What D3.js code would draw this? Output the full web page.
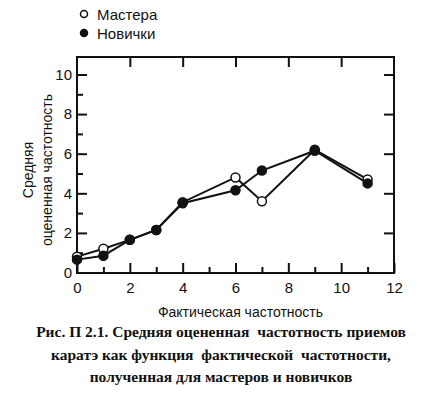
<!DOCTYPE html>
<html>
<head>
<meta charset="utf-8">
<script src="https://cdn.jsdelivr.net/npm/d3@7"></script>
<style>
  body { margin: 0; background: #fff; }
  svg { display: block; }
</style>
</head>
<body>
<svg width="424" height="393"></svg>
<script>
// data
const freq = [0, 1, 2, 3, 4, 6, 7, 9, 11];
const masters = [0.8, 1.2, 1.65, 2.15, 3.55, 4.8, 3.6, 6.2, 4.7];
const novices = [0.65, 0.85, 1.65, 2.15, 3.5, 4.15, 5.15, 6.15, 4.5];
const xMajor = [0, 2, 4, 6, 8, 10, 12];
const yMajor = [0, 2, 4, 6, 8, 10];
const legendLabels = ["Мастера", "Новички"];
const caption = [
  "Рис. П 2.1. Средняя оцененная  частотность приемов",
  "каратэ как функция  фактической  частотности,",
  "полученная для мастеров и новичков"
];

const svg = d3.select("svg");
const plotL = 77, plotR = 394, plotT = 57, plotB = 273;

const x = d3.scaleLinear().domain([0, 12]).range([plotL, plotR]);
const y = d3.scaleLinear().domain([0, 10]).range([272.5, 74.5]);

// frame
svg.append("rect")
  .attr("x", plotL).attr("y", plotT)
  .attr("width", plotR - plotL).attr("height", plotB - plotT)
  .attr("fill", "none").attr("stroke", "#111").attr("stroke-width", 2);

const tickFont = g => g.call(g => g.select(".domain").remove())
  .selectAll("text")
  .attr("font-family", "Liberation Sans, Arial, sans-serif")
  .attr("font-size", 15)
  .attr("fill", "#111");

const styleTicks = g => g.selectAll("line").attr("stroke", "#111").attr("stroke-width", 2);

// bottom axis: major + minor ticks
svg.append("g").attr("transform", `translate(0,${plotB})`)
  .call(d3.axisBottom(x).tickValues(xMajor).tickSize(-10).tickPadding(9).tickFormat(d3.format("d")))
  .call(tickFont)
  .call(styleTicks);
svg.append("g").attr("transform", `translate(0,${plotB})`)
  .call(d3.axisBottom(x).tickValues(d3.range(1, 12, 2)).tickSize(-6).tickFormat(""))
  .call(g => g.select(".domain").remove())
  .call(styleTicks);

// top ticks
svg.append("g").attr("transform", `translate(0,${plotT})`)
  .call(d3.axisTop(x).tickValues(xMajor.slice(1, -1)).tickSize(-10).tickFormat(""))
  .call(g => g.select(".domain").remove())
  .call(styleTicks);

// left axis
svg.append("g").attr("transform", `translate(${plotL},0)`)
  .call(d3.axisLeft(y).tickValues(yMajor).tickSize(-10).tickPadding(5).tickFormat(d3.format("d")))
  .call(tickFont)
  .call(styleTicks);
svg.append("g").attr("transform", `translate(${plotL},0)`)
  .call(d3.axisLeft(y).tickValues(d3.range(1, 10, 2)).tickSize(-6).tickFormat(""))
  .call(g => g.select(".domain").remove())
  .call(styleTicks);

// right ticks
svg.append("g").attr("transform", `translate(${plotR},0)`)
  .call(d3.axisRight(y).tickValues(yMajor.slice(1)).tickSize(-10).tickFormat(""))
  .call(g => g.select(".domain").remove())
  .call(styleTicks);

// lines
const line = d3.line().x(d => x(d[0])).y(d => y(d[1]));
const series = [
  { vals: masters, fill: "#fff" },
  { vals: novices, fill: "#111" }
];
series.forEach(s => {
  svg.append("path")
    .datum(freq.map((f, i) => [f, s.vals[i]]))
    .attr("fill", "none").attr("stroke", "#111").attr("stroke-width", 2)
    .attr("d", line);
});
series.forEach(s => {
  svg.append("g").selectAll("circle")
    .data(freq.map((f, i) => [f, s.vals[i]]))
    .join("circle")
    .attr("cx", d => x(d[0])).attr("cy", d => y(d[1]))
    .attr("r", 4.5)
    .attr("fill", s.fill).attr("stroke", "#111").attr("stroke-width", 1.5);
});

// legend
const legend = svg.append("g")
  .attr("font-family", "Liberation Sans, Arial, sans-serif")
  .attr("font-size", 15).attr("fill", "#111");
legendLabels.forEach((t, i) => {
  legend.append("circle")
    .attr("cx", 84).attr("cy", 14 + i * 19).attr("r", 3.5)
    .attr("fill", series[i].fill).attr("stroke", "#111").attr("stroke-width", 1.5);
  legend.append("text").attr("x", 97).attr("y", 19.5 + i * 19).text(t);
});

// axis titles
svg.append("text")
  .attr("x", (plotL + plotR) / 2 + 5).attr("y", 317)
  .attr("text-anchor", "middle")
  .attr("font-family", "Liberation Sans, Arial, sans-serif")
  .attr("font-size", 14).attr("fill", "#111")
  .text("Фактическая частотность");

const yTitle = svg.append("text")
  .attr("transform", "translate(0,170) rotate(-90)")
  .attr("text-anchor", "middle")
  .attr("font-family", "Liberation Sans, Arial, sans-serif")
  .attr("font-size", 14).attr("fill", "#111");
yTitle.append("tspan").attr("x", 0).attr("y", 33).text("Средняя");
yTitle.append("tspan").attr("x", 0).attr("y", 52).text("оцененная частотность");

// caption
svg.append("g").selectAll("text")
  .data(caption)
  .join("text")
  .attr("x", 221).attr("y", (d, i) => 337 + i * 22.5)
  .attr("text-anchor", "middle")
  .attr("font-family", "Liberation Serif, Times New Roman, serif")
  .attr("font-weight", "bold")
  .attr("font-size", 15.5).attr("fill", "#111")
  .style("white-space", "pre")
  .text(d => d);
</script>
</body>
</html>
